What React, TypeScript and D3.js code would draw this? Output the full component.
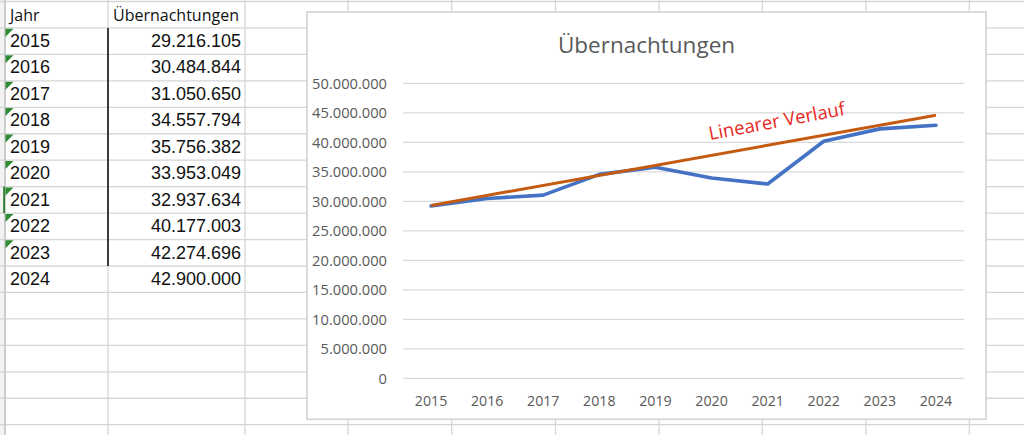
import * as d3 from "d3"

const years = ["2015", "2016", "2017", "2018", "2019", "2020", "2021", "2022", "2023", "2024"]
const nights = [
  29216105, 30484844, 31050650, 34557794, 35756382, 33953049, 32937634, 40177003, 42274696,
  42900000,
]
// trend line (first and last year)
const trendYears = ["2015", "2024"]
const trendValues = [29300000, 44600000]
const yTicks = [0, 5000000, 10000000, 15000000, 20000000, 25000000, 30000000, 35000000, 40000000, 45000000, 50000000]
// years that carry the green "number as text" marker
const flagged = ["2015", "2016", "2017", "2018", "2019", "2020", "2021", "2022", "2023"]

const de = d3.formatLocale({ decimal: ",", thousands: ".", grouping: [3], currency: ["", "€"] })
const fmt = de.format(",d")

const W = 1024
const H = 435
const rowTop = 1.5
const rowH = 26.45
const colLines = [5, 108, 245, 348, 451.7, 555.5, 659, 762.3, 866, 969.3]
const sheetFont = "'Liberation Sans', Arial, sans-serif"
const chartFont = "'Open Sans', sans-serif"

export default function App() {
  const x = d3.scaleBand<string>().domain(years).range([403, 964])
  const y = d3.scaleLinear().domain([0, 50000000]).range([378.3, 83.3])
  const cx = (yr: string) => (x(yr) ?? 0) + x.bandwidth() / 2

  const line = d3
    .line<number>()
    .x((_, i) => cx(years[i]))
    .y((d) => y(d))
  const trend = d3
    .line<number>()
    .x((_, i) => cx(trendYears[i]))
    .y((d) => y(d))

  const rows = d3.range(0, 17).map((i) => rowTop + i * rowH)
  const box = { x: 307, y: 12, w: 679, h: 407.3 }

  return (
    <svg
      width={W}
      height={H}
      style={{ position: "absolute", left: 0, top: 0, background: "#fff" }}
    >
      {/* spreadsheet grid */}
      <rect x={0} y={0} width={4} height={H} fill="#f2f2f2" />
      {rows.map((r, i) => (
        <line key={"r" + i} x1={0} x2={W} y1={r} y2={r} stroke="#d6d6d6" strokeWidth={1.3} />
      ))}
      {colLines.map((c, i) => (
        <line
          key={"c" + i}
          x1={c}
          x2={c}
          y1={0}
          y2={H}
          stroke={i === 0 ? "#c8c8c8" : "#d6d6d6"}
          strokeWidth={i === 0 ? 1.8 : 1.3}
        />
      ))}

      {/* table */}
      <text x={10} y={21} fontFamily={chartFont} fontSize={16} fill="#111">
        Jahr
      </text>
      <text x={113} y={21} fontFamily={chartFont} fontSize={16} fill="#111">
        Übernachtungen
      </text>
      {years.map((yr, i) => {
        const top = rows[i + 1]
        return (
          <g key={yr}>
            {flagged.includes(yr) && (
              <path d={`M5.5,${top + 0.8} h8 l-8,8 z`} fill="#2e8a35" />
            )}
            <text x={10} y={top + 19} fontFamily={sheetFont} fontSize={18} fill="#111">
              {yr}
            </text>
            <text
              x={241}
              y={top + 19}
              textAnchor="end"
              fontFamily={sheetFont}
              fontSize={18}
              fill="#111"
            >
              {fmt(nights[i])}
            </text>
          </g>
        )
      })}
      <rect x={3.2} y={rows[7]} width={1.8} height={rowH} fill="#2e7d32" />
      <line x1={108} x2={108} y1={rows[1]} y2={rows[10]} stroke="#111" strokeWidth={1.6} />

      {/* chart */}
      <rect
        x={box.x}
        y={box.y}
        width={box.w}
        height={box.h}
        fill="#fff"
        stroke="#d2d2d2"
        strokeWidth={1.6}
      />
      <text
        x={box.x + box.w / 2}
        y={52.5}
        textAnchor="middle"
        fontFamily={chartFont}
        fontSize={22.5}
        fill="#595959"
      >
        Übernachtungen
      </text>
      {yTicks.map((t) => (
        <g key={t}>
          <line x1={403} x2={964} y1={y(t)} y2={y(t)} stroke="#d9d9d9" strokeWidth={1.3} />
          <text
            x={387}
            y={y(t)}
            dy="0.36em"
            textAnchor="end"
            fontFamily={chartFont}
            fontSize={14.7}
            fill="#595959"
          >
            {fmt(t)}
          </text>
        </g>
      ))}
      {years.map((yr) => (
        <text
          key={yr}
          x={cx(yr)}
          y={406}
          textAnchor="middle"
          fontFamily={chartFont}
          fontSize={14.2}
          fill="#595959"
        >
          {yr}
        </text>
      ))}
      <path
        d={line(nights) || undefined}
        fill="none"
        stroke="#4472c4"
        strokeWidth={3.6}
        strokeLinejoin="round"
        strokeLinecap="round"
      />
      <path d={trend(trendValues) || undefined} fill="none" stroke="#c55a11" strokeWidth={3} />
      <text
        transform="translate(710,140) rotate(-10.5)"
        fontFamily={chartFont}
        fontSize={18.5}
        fill="#e8281e"
      >
        Linearer Verlauf
      </text>
    </svg>
  )
}
